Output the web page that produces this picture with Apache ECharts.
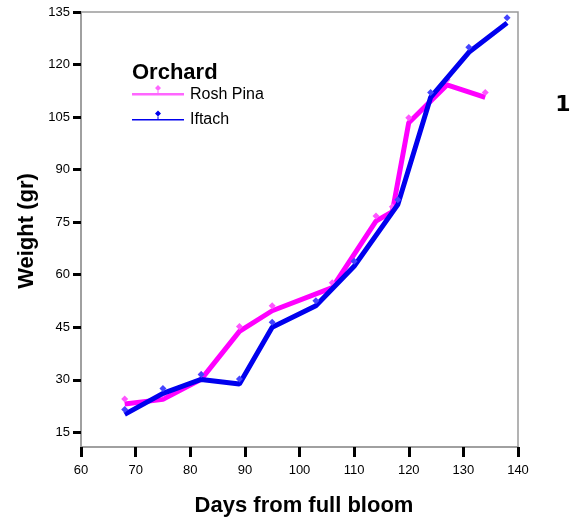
<!DOCTYPE html>
<html>
<head>
<meta charset="utf-8">
<script src="https://cdn.jsdelivr.net/npm/echarts@6/dist/echarts.min.js"></script>
<style>html,body{margin:0;padding:0;background:#fff}#c{width:578px;height:522px}</style>
</head>
<body>
<div id="c"></div>
<script>
// Data
var roshPinaDays   = [68, 75, 82, 89, 95, 106, 114, 117, 120, 127, 134];
var roshPinaWeight = [23.1, 24.4, 30.1, 43.8, 49.7, 56.3, 75.3, 78.0, 103.4, 114.2, 110.6];
var iftachDays     = [68, 75, 82, 89, 95, 103, 110, 118, 124, 131, 138];
var iftachWeight   = [20.1, 26.1, 30.1, 28.8, 45.0, 51.1, 62.4, 80.0, 110.6, 123.5, 131.9];
var xTicks = [60, 70, 80, 90, 100, 110, 120, 130, 140];
var yTicks = [15, 30, 45, 60, 75, 90, 105, 120, 135];

function pairs(xs, ys) { return xs.map(function (x, i) { return [x, ys[i]]; }); }

var chart = echarts.init(document.getElementById('c'), null, { renderer: 'canvas' });
var FONT = '"Liberation Sans", Arial, Helvetica, sans-serif';

// legend icons: short line with the diamond marker sitting above it
var iconPink = 'path://M26,0L29,3L26,6L23,3Z M25.5,6L26.5,6L26.5,8L25.5,8Z M0,8L52,8L52,10.5L0,10.5Z M0,18.5L0.01,18.5L0.01,18.49Z';
var iconBlue = 'path://M26,0L29,3L26,6L23,3Z M25.5,6L26.5,6L26.5,8.5L25.5,8.5Z M0,8.5L52,8.5L52,10L0,10Z M0,18.5L0.01,18.5L0.01,18.49Z';

chart.setOption({
  animation: false,
  backgroundColor: '#fff',
  grid: { left: 81, top: 12, right: 60, bottom: 75, show: true, borderColor: '#9a9a9a', borderWidth: 1.5 },
  xAxis: {
    type: 'value', min: 60, max: 140, interval: 10,
    axisLine: { show: true, lineStyle: { color: '#9a9a9a', width: 1.5 } },
    axisTick: { show: true, length: 10, lineStyle: { color: '#000', width: 3 } },
    axisLabel: { color: '#000', fontSize: 13, fontFamily: FONT, margin: 17 },
    splitLine: { show: false }
  },
  yAxis: {
    type: 'value', min: 10.8, max: 135,
    axisLine: { show: true, lineStyle: { color: '#9a9a9a', width: 1.5 } },
    axisTick: { show: true, length: 8, customValues: yTicks, lineStyle: { color: '#000', width: 3 } },
    axisLabel: { color: '#000', fontSize: 13, fontFamily: FONT, margin: 11, customValues: yTicks },
    splitLine: { show: false }
  },
  legend: {
    orient: 'vertical', left: 132, top: 85, padding: 0, itemGap: 7, itemWidth: 52, itemHeight: 18.5,
    symbolKeepAspect: false,
    textStyle: { color: '#000', fontSize: 16, fontFamily: FONT, padding: [0, 0, 0, 1] },
    data: [
      { name: 'Rosh Pina', icon: iconPink, itemStyle: { color: '#ff66ff' } },
      { name: 'Iftach', icon: iconBlue, itemStyle: { color: '#0000ee' } }
    ]
  },
  series: [
    {
      name: 'Rosh Pina', type: 'line', data: pairs(roshPinaDays, roshPinaWeight),
      lineStyle: { color: '#ff00ff', width: 5 },
      symbol: 'diamond', symbolSize: 7, symbolOffset: [0, -5], showAllSymbol: true,
      itemStyle: { color: '#ff55ff' }, z: 2
    },
    {
      name: 'Iftach', type: 'line', data: pairs(iftachDays, iftachWeight),
      lineStyle: { color: '#0000ee', width: 5 },
      symbol: 'diamond', symbolSize: 7, symbolOffset: [0, -5], showAllSymbol: true,
      itemStyle: { color: '#4444ff' }, z: 3
    }
  ],
  graphic: [
    { type: 'text', left: 132, top: 62, style: { text: 'Orchard', font: 'bold 22px ' + FONT, fill: '#000' } },
    { type: 'text', x: 304, y: 506, style: { text: 'Days from full bloom', font: 'bold 22px ' + FONT, fill: '#000', align: 'center', verticalAlign: 'middle' } },
    { type: 'text', x: 27, y: 231, rotation: Math.PI / 2, style: { text: 'Weight (gr)', font: 'bold 22px ' + FONT, fill: '#000', align: 'center', verticalAlign: 'middle' } },
    { type: 'text', x: 563, y: 105, style: { text: '1', font: 'bold 22px "DejaVu Sans", sans-serif', fill: '#000', align: 'center', verticalAlign: 'middle' } }
  ]
});
</script>
</body>
</html>
